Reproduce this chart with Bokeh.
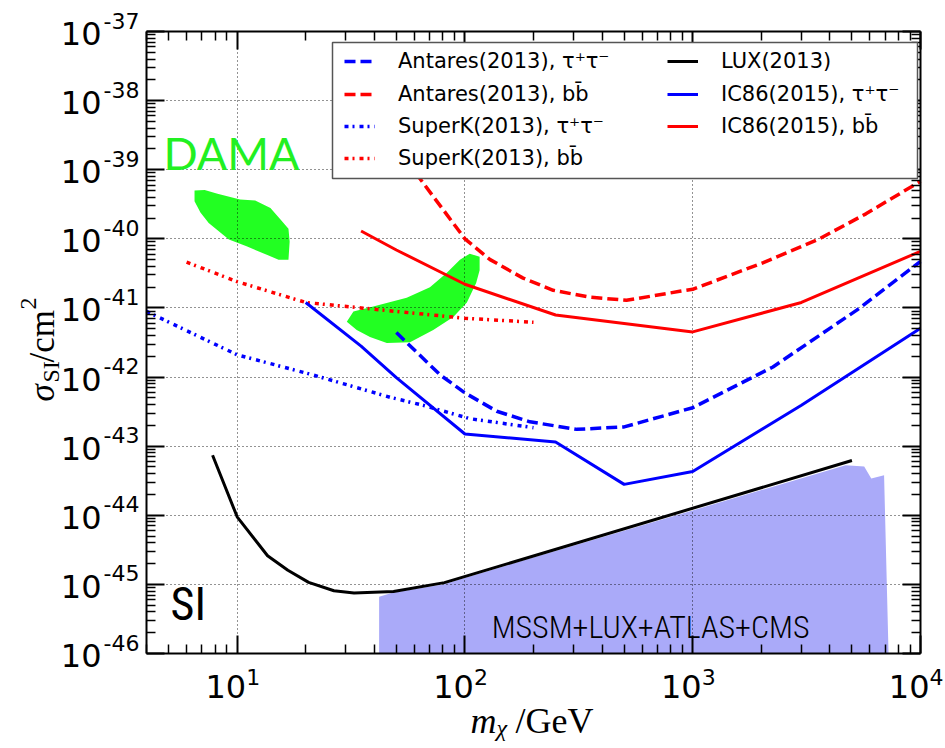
import numpy as np
from bokeh.plotting import figure
from bokeh.models import (Range1d, FixedTicker, Label, Legend, LegendItem,
                          LogAxis, CustomJSTickFormatter, Grid, BoxAnnotation)
from bokeh.embed import file_html
from bokeh.resources import INLINE

# ---------------- data (mass in GeV, cross-section in cm^2) ----------------
lux_mass = [7.8, 10, 12.2, 13.6, 16.7, 20.6, 26.6, 32.6, 48.6, 81.3, 5000]
lux_sigma = [7.4e-44, 9.5e-45, 4.1e-45, 2.6e-45, 1.6e-45, 1.07e-45, 8.1e-46,
             7.5e-46, 7.9e-46, 1.06e-45, 6.2e-44]

ic_tau_mass = [20, 35, 50, 100, 250, 500, 1000, 3000, 10000]
ic_tau_sigma = [1.2e-41, 2.8e-42, 9.8e-43, 1.5e-43, 1.15e-43, 2.8e-44,
                4.3e-44, 3.9e-43, 5.1e-42]

ic_bb_mass = [35, 50, 100, 250, 1000, 3000, 10000]
ic_bb_sigma = [1.3e-40, 6.9e-41, 2.2e-41, 7.9e-42, 4.5e-42, 1.2e-41, 6.6e-41]

ant_tau_mass = [50, 78, 100, 138, 193, 310, 500, 1000, 2250, 5250, 10000]
ant_tau_sigma = [4.4e-42, 1.07e-42, 5.9e-43, 3.2e-43, 2.25e-43, 1.75e-43,
                 1.9e-43, 3.6e-43, 1.4e-42, 9.3e-42, 4.7e-41]

ant_bb_mass = [50, 63.5, 100, 129, 180, 244, 353, 512, 877, 1000, 2030,
               3550, 5760, 10000]
ant_bb_sigma = [2.1e-39, 7.4e-40, 1.0e-40, 5.0e-41, 2.7e-41, 1.8e-41,
                1.43e-41, 1.29e-41, 1.74e-41, 1.86e-41, 4.5e-41, 9.8e-41,
                2.3e-40, 6.8e-40]

sk_tau_mass = [4, 10, 21.6, 46.9, 65.6, 105, 200]
sk_tau_sigma = [8.9e-42, 2.1e-42, 1.07e-42, 5.1e-43, 3.9e-43, 2.5e-43, 1.85e-43]

sk_bb_mass = [6, 10, 20, 35, 100, 200]
sk_bb_sigma = [4.6e-41, 2.4e-41, 1.2e-41, 1.0e-41, 7.1e-42, 6.2e-42]

mssm_mass = [42, 42, 48, 80, 4690, 5660, 6080, 6920, 7240]
mssm_sigma = [1e-46, 6.6e-46, 7.6e-46, 1.0e-45, 5.3e-44, 5.1e-44, 3.4e-44,
              3.8e-44, 1e-46]

dama1_mass = [6.5, 7.2, 8.2, 10.3, 12.0, 14.0, 15.5, 16.8, 17.0, 16.8, 15.2,
              13.0, 11.0, 9.2, 7.5, 6.9, 6.5]
dama1_sigma = [5.0e-40, 5.1e-40, 4.5e-40, 3.7e-40, 3.6e-40, 2.8e-40, 1.9e-40,
               1.4e-40, 9.1e-41, 5.0e-41, 5.0e-41, 6.2e-41, 7.8e-41, 9.8e-41,
               1.7e-40, 2.4e-40, 3.5e-40]

dama2_mass = [30.3, 32.4, 39.6, 55.5, 70.2, 83.1, 95.1, 105, 116, 116, 112,
              102, 88.9, 72.6, 57.4, 45.4, 38.3, 33.5]
dama2_sigma = [6.3e-42, 8.9e-42, 1.05e-41, 1.4e-41, 2.0e-41, 3.2e-41, 5.0e-41,
               6.1e-41, 5.5e-41, 3.5e-41, 2.3e-41, 1.2e-41, 7.4e-42, 4.8e-42,
               3.2e-42, 3.1e-42, 3.8e-42, 4.8e-42]

x_tick_exponents = [1, 2, 3, 4]
y_tick_exponents = list(range(-46, -36))

legend_labels = ["Antares(2013), τ⁺τ⁻", "Antares(2013), bb̄",
                 "SuperK(2013), τ⁺τ⁻", "SuperK(2013), bb̄",
                 "LUX(2013)", "IC86(2015), τ⁺τ⁻", "IC86(2015), bb̄"]

# ---------------- geometry ----------------
W, H = 945, 748
X_MIN, X_MAX = 4, 1e4
Y_MIN, Y_MAX = 1e-46, 1e-37
# pixel box of the data area inside the canvas; the canvas itself is the
# frame, so texts around the box are not clipped away
BOX_L, BOX_R, BOX_T, BOX_B = 146, 920, 31, 653

lx0, lx1 = np.log10(X_MIN), np.log10(X_MAX)
ly0, ly1 = np.log10(Y_MIN), np.log10(Y_MAX)
ppd_x = (BOX_R - BOX_L) / (lx1 - lx0)
ppd_y = (BOX_B - BOX_T) / (ly1 - ly0)
x_range = Range1d(10 ** (lx0 - BOX_L / ppd_x), 10 ** (lx1 + (W - BOX_R) / ppd_x))
y_range = Range1d(10 ** (ly0 - (H - BOX_B) / ppd_y), 10 ** (ly1 + BOX_T / ppd_y))


def px_to_x(px):
    return 10 ** (lx0 + (px - BOX_L) / ppd_x)


def px_to_y(py):
    return 10 ** (ly1 - (py - BOX_T) / ppd_y)


p = figure(width=W, height=H, x_axis_type="log", y_axis_type="log",
           x_range=x_range, y_range=y_range, title=None,
           output_backend="svg", toolbar_location=None, tools="",
           min_border=0)
p.background_fill_color = "white"
p.border_fill_color = "white"
p.outline_line_color = None


def inside(vals, lo, hi):
    return [v for v in vals if lo * (1 - 1e-9) <= v <= hi * (1 + 1e-9)]


x_major = inside([10.0 ** k for k in range(0, 5)], X_MIN, X_MAX)
x_minor = inside([m * 10.0 ** k for k in range(0, 4) for m in range(2, 10)],
                 X_MIN, X_MAX)
y_major = inside([10.0 ** k for k in range(-47, -36)], Y_MIN, Y_MAX)
y_minor = inside([m * 10.0 ** k for k in range(-47, -37) for m in range(2, 10)],
                 Y_MIN, Y_MAX)

# four axes drawn on the edges of the data box, ticks pointing inwards
p.add_layout(LogAxis(), "above")
p.add_layout(LogAxis(), "right")
p.below[0].fixed_location = Y_MIN
p.above[0].fixed_location = Y_MAX
p.left[0].fixed_location = X_MIN
p.right[0].fixed_location = X_MAX
blank = CustomJSTickFormatter(code="return ''")
for ax in p.xaxis:
    ax.ticker = FixedTicker(ticks=x_major, minor_ticks=x_minor)
    ax.bounds = (X_MIN, X_MAX)
for ax in p.yaxis:
    ax.ticker = FixedTicker(ticks=y_major, minor_ticks=y_minor)
    ax.bounds = (Y_MIN, Y_MAX)
for ax in p.xaxis + p.yaxis:
    ax.formatter = blank
    ax.major_label_text_font_size = "0px"
    ax.major_label_standoff = 0
    ax.major_tick_in = 18
    ax.major_tick_out = 0
    ax.minor_tick_in = 9
    ax.minor_tick_out = 0
    ax.major_tick_line_width = 2
    ax.minor_tick_line_width = 1.5
    ax.axis_line_width = 2
    ax.axis_line_color = "black"

# dotted grid at the inner decades, limited to the data box
gx = [v for v in x_major if X_MIN < v < X_MAX * 0.999]
gy = [v for v in y_major if Y_MIN * 1.001 < v < Y_MAX * 0.999]
GRID = dict(line_color="black", line_dash="1 3", line_width=1, line_alpha=0.85)
if "cross_bounds" in Grid.properties():
    p.xgrid.ticker = FixedTicker(ticks=gx)
    p.ygrid.ticker = FixedTicker(ticks=gy)
    p.xgrid.bounds = (X_MIN, X_MAX)
    p.ygrid.bounds = (Y_MIN, Y_MAX)
    p.xgrid.cross_bounds = (Y_MIN, Y_MAX)
    p.ygrid.cross_bounds = (X_MIN, X_MAX)
    for g in (p.xgrid, p.ygrid):
        g.grid_line_color = GRID["line_color"]
        g.grid_line_dash = GRID["line_dash"]
        g.grid_line_width = GRID["line_width"]
        g.grid_line_alpha = GRID["line_alpha"]
else:
    p.xgrid.visible = False
    p.ygrid.visible = False
    p.segment(x0=gx, y0=[Y_MIN] * len(gx), x1=gx, y1=[Y_MAX] * len(gx),
              level="underlay", **GRID)
    p.segment(x0=[X_MIN] * len(gy), y0=gy, x1=[X_MAX] * len(gy), y1=gy,
              level="underlay", **GRID)

# ---------------- regions ----------------
p.patch(mssm_mass, mssm_sigma, fill_color="#aaaaf9", line_color=None,
        level="image")
p.patch(dama1_mass, dama1_sigma, fill_color="#22ff22", line_color=None,
        level="image")
p.patch(dama2_mass, dama2_sigma, fill_color="#22ff22", line_color=None,
        level="image")

# ---------------- limit curves ----------------
DASH = "11 5"
DASHDOT = "4 4 2 5"
r_ant_tau = p.line(ant_tau_mass, ant_tau_sigma, line_color="blue",
                   line_width=3.5, line_dash=DASH)
r_ant_bb = p.line(ant_bb_mass, ant_bb_sigma, line_color="red",
                  line_width=3.5, line_dash=DASH)
r_sk_tau = p.line(sk_tau_mass, sk_tau_sigma, line_color="blue",
                  line_width=3.5, line_dash=DASHDOT)
r_sk_bb = p.line(sk_bb_mass, sk_bb_sigma, line_color="red",
                 line_width=3.5, line_dash=DASHDOT)
r_lux = p.line(lux_mass, lux_sigma, line_color="black", line_width=3)
r_ic_tau = p.line(ic_tau_mass, ic_tau_sigma, line_color="blue", line_width=3)
r_ic_bb = p.line(ic_bb_mass, ic_bb_sigma, line_color="red", line_width=3)

# ---------------- in-plot texts (anchored at their vertical middle) --------
NARROW = "Roboto Condensed, DejaVu Sans Condensed, sans-serif"
NARROW_LIGHT = "Roboto Condensed Light, " + NARROW
p.add_layout(Label(x=4.75, y=1e-39, text="DAMA", text_font="Lato",
                   text_font_size="45px", text_color="#22f022",
                   text_baseline="middle", y_offset=17))
p.add_layout(Label(x=5.1, y=3.0e-46, text="SI", text_font=NARROW,
                   text_font_size="46px", text_color="black",
                   text_baseline="middle", y_offset=17))
p.add_layout(Label(x=131, y=1.6e-46, text="MSSM+LUX+ATLAS+CMS",
                   text_font=NARROW_LIGHT, text_font_size="32px",
                   text_color="black", text_baseline="middle", y_offset=12))

# ---------------- tick labels: 10 with a raised exponent ----------------
BASE_FS, EXP_FS = "32px", "22px"
TICK = dict(text_font="DejaVu Sans", text_color="black", text_baseline="middle")
for k in x_tick_exponents:
    p.add_layout(Label(x=10.0 ** k, y=Y_MIN, text="10", text_font_size=BASE_FS,
                       text_align="right", x_offset=9, y_offset=-33, **TICK))
    p.add_layout(Label(x=10.0 ** k, y=Y_MIN, text=str(k), text_font_size=EXP_FS,
                       text_align="left", x_offset=9, y_offset=-23, **TICK))
for k in y_tick_exponents:
    p.add_layout(Label(x=X_MIN, y=10.0 ** k, text="10", text_font_size=BASE_FS,
                       text_align="right", x_offset=-45, y_offset=-2, **TICK))
    p.add_layout(Label(x=X_MIN, y=10.0 ** k, text=str(k), text_font_size=EXP_FS,
                       text_align="left", x_offset=-43, y_offset=11, **TICK))

# ---------------- axis titles ----------------
SERIF = "Liberation Serif"
x_mid = np.sqrt(X_MIN * X_MAX)
y_mid = np.sqrt(Y_MIN * Y_MAX)
for txt, style, fs, dx, dy in [("m", "italic", "36px", -63, -67),
                               ("χ", "italic", "24px", -37, -74),
                               ("/GeV", "normal", "36px", -18, -67)]:
    p.add_layout(Label(x=x_mid, y=Y_MIN, text=txt, text_font=SERIF,
                       text_font_style=style, text_font_size=fs,
                       text_color="black", text_baseline="middle",
                       text_align="left", x_offset=dx, y_offset=dy))
for txt, style, fs, dx, dy in [("σ", "italic", "35px", -104, -59),
                               ("SI", "normal", "24px", -96, -40),
                               ("/cm", "normal", "35px", -104, -20),
                               ("2", "normal", "24px", -118, 33)]:
    p.add_layout(Label(x=X_MIN, y=y_mid, text=txt, text_font=SERIF,
                       text_font_style=style, text_font_size=fs,
                       text_color="black", text_baseline="middle",
                       text_align="left", angle=np.pi / 2,
                       x_offset=dx, y_offset=dy))

# ---------------- legend: framed box with two columns of entries ----------
LEG_L, LEG_R, LEG_T, LEG_B = 332, 917, 42, 178
ROW_CENTERS = [61, 93.5, 126, 158]
COL_LEFT = [344, 667]
ROW_H = 30

p.add_layout(BoxAnnotation(left=px_to_x(LEG_L), right=px_to_x(LEG_R),
                           top=px_to_y(LEG_T), bottom=px_to_y(LEG_B),
                           fill_color="white", fill_alpha=1.0,
                           line_color="#555555", line_width=1.5,
                           line_alpha=1.0))

renderers = [r_ant_tau, r_ant_bb, r_sk_tau, r_sk_bb, r_lux, r_ic_tau, r_ic_bb]
LEG = dict(orientation="vertical", label_text_font="DejaVu Sans",
           label_text_font_size="21px", label_text_color="black",
           glyph_width=31, glyph_height=ROW_H, label_height=ROW_H,
           label_standoff=23, spacing=0, padding=0, margin=0,
           border_line_color=None, background_fill_alpha=0.0)
for i, (lab, r) in enumerate(zip(legend_labels, renderers)):
    col, row = (0, i) if i < 4 else (1, i - 4)
    bottom_px = ROW_CENTERS[row] + ROW_H / 2
    p.add_layout(Legend(items=[LegendItem(label=lab, renderers=[r])],
                        location=(COL_LEFT[col], H - bottom_px), **LEG))

open("out.html", "w").write(file_html(p, INLINE))
